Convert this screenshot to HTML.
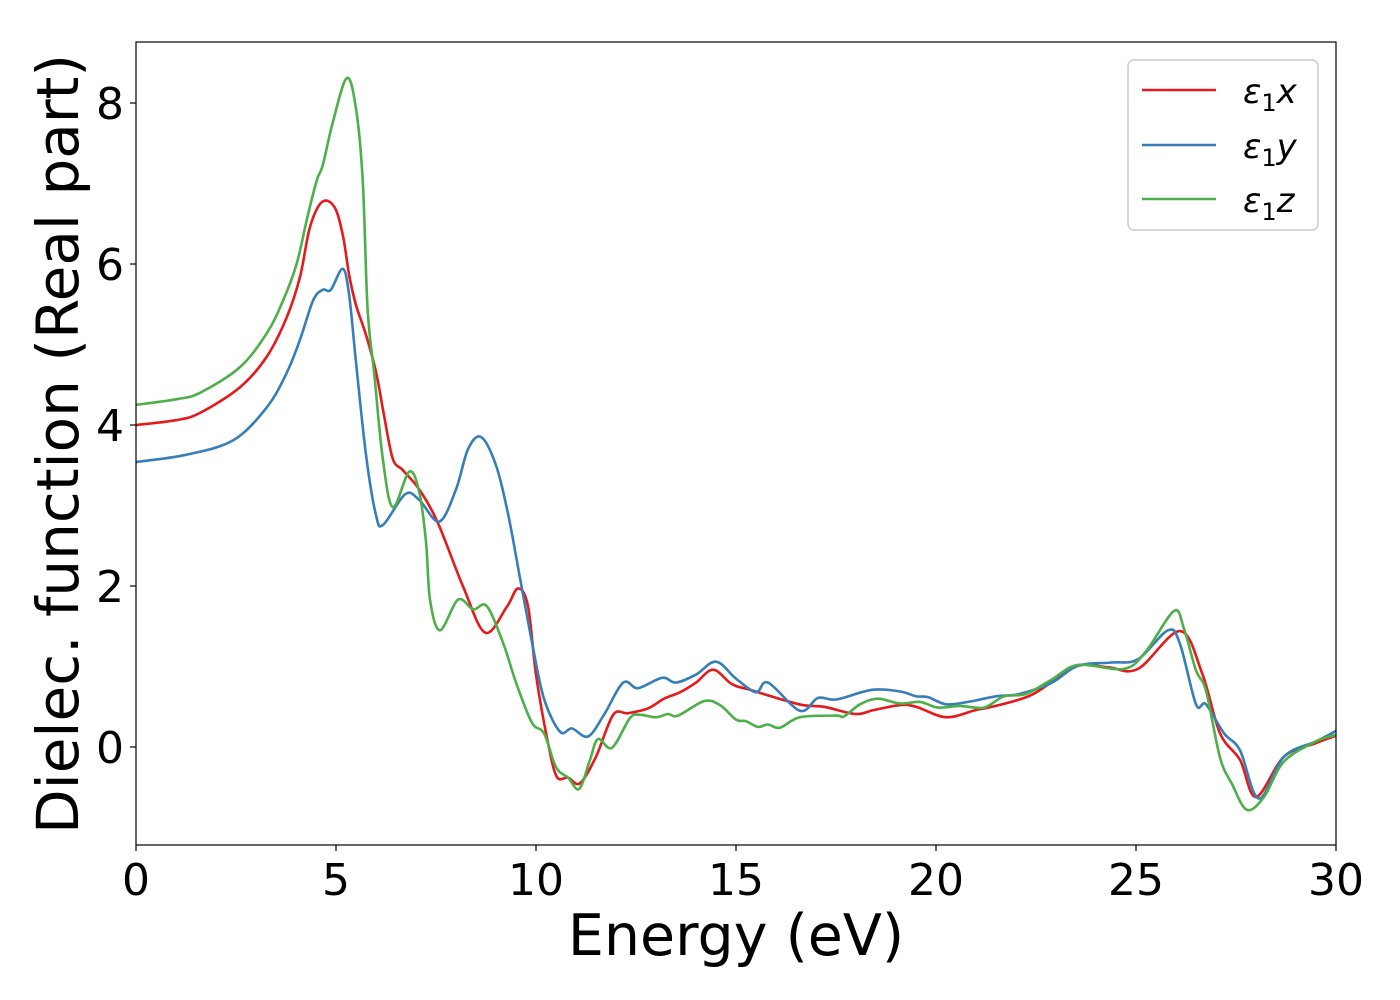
<!DOCTYPE html>
<html><head><meta charset="utf-8"><style>
body{margin:0;background:#fff;}
svg{display:block;font-family:"DejaVu Sans","Liberation Sans",sans-serif;}
</style></head><body>
<svg id="chart" width="1400" height="1000" viewBox="0 0 1400 1000">
<g id="plot"></g>
<g id="axes"></g>
<text x="736" y="955" font-size="57" text-anchor="middle">Energy (eV)</text>
<text transform="translate(78,444) rotate(-90)" font-size="58" text-anchor="middle">Dielec. function (Real part)</text>
<g>
<rect x="1128" y="60" width="190" height="170" rx="6" fill="#fff" stroke="#ccc" stroke-width="1.5"/>
<line x1="1142" y1="90" x2="1216" y2="90" stroke="#e41a1c" stroke-width="2.5"/>
<text x="1243" y="103" font-size="34" font-style="italic">ε<tspan font-style="normal" font-size="24" dy="8">1</tspan><tspan dy="-8">x</tspan></text>
<line x1="1142" y1="145" x2="1216" y2="145" stroke="#377eb8" stroke-width="2.5"/>
<text x="1243" y="158" font-size="34" font-style="italic">ε<tspan font-style="normal" font-size="24" dy="8">1</tspan><tspan dy="-8">y</tspan></text>
<line x1="1142" y1="199" x2="1216" y2="199" stroke="#4daf4a" stroke-width="2.5"/>
<text x="1243" y="212" font-size="34" font-style="italic">ε<tspan font-style="normal" font-size="24" dy="8">1</tspan><tspan dy="-8">z</tspan></text>
</g>
</svg>
<script>
const xTicks=[0,5,10,15,20,25,30];
const yTicks=[0,2,4,6,8];
const energyX=[0,1.0,1.6,2.6,3.27,3.77,4.1,4.35,4.65,4.96,5.17,5.33,5.5,5.75,6.0,6.2,6.42,6.67,7.08,7.55,8.18,8.73,9.27,9.55,9.8,10.0,10.3,10.52,10.8,11.1,11.5,11.93,12.3,12.8,13.2,13.6,14.0,14.43,14.9,15.35,16.58,17.2,17.99,18.45,19.1,19.5,20.25,21.0,21.4,22.4,23.5,24.3,25.05,26.1,26.65,27.1,27.6,28.0,28.7,29.5,30];
const valuesX=[4.0,4.06,4.15,4.47,4.85,5.34,5.84,6.46,6.77,6.71,6.36,5.86,5.49,5.12,4.66,4.12,3.58,3.44,3.2,2.78,1.99,1.42,1.74,1.97,1.75,0.9,0.05,-0.37,-0.38,-0.45,-0.12,0.4,0.42,0.48,0.6,0.68,0.8,0.96,0.78,0.71,0.53,0.5,0.41,0.46,0.52,0.5,0.37,0.46,0.5,0.65,1.0,0.99,0.97,1.44,0.92,0.17,-0.16,-0.62,-0.12,0.05,0.14];
const energyY=[0,1.25,2.43,3.27,3.77,4.1,4.43,4.67,4.87,5.17,5.33,5.5,5.75,6.0,6.18,6.73,7.08,7.58,8.0,8.3,8.63,9.0,9.3,9.6,9.9,10.2,10.6,10.9,11.3,11.7,12.18,12.55,13.15,13.5,14.0,14.5,15.0,15.5,15.8,16.6,17.05,17.5,18.4,19.1,19.5,19.8,20.25,20.8,21.5,22.1,22.9,23.55,24.4,25.05,25.8,26.1,26.5,26.75,27.2,27.6,28.07,28.7,29.5,30];
const valuesY=[3.54,3.63,3.81,4.22,4.65,5.06,5.55,5.68,5.68,5.94,5.61,4.78,3.63,2.88,2.76,3.14,3.07,2.8,3.2,3.7,3.85,3.5,2.9,2.1,1.3,0.6,0.19,0.23,0.13,0.4,0.8,0.73,0.86,0.8,0.9,1.06,0.85,0.68,0.8,0.45,0.61,0.59,0.71,0.69,0.63,0.62,0.53,0.56,0.63,0.66,0.8,1.01,1.05,1.09,1.45,1.28,0.53,0.53,0.17,-0.04,-0.64,-0.12,0.07,0.2];
const energyZ=[0,1.0,1.6,2.6,3.27,3.68,4.02,4.27,4.52,4.67,4.92,5.27,5.5,5.67,5.79,5.96,6.17,6.42,6.83,7.08,7.25,7.35,7.6,8.05,8.43,8.77,9.18,9.5,9.9,10.2,10.5,10.8,11.08,11.35,11.55,11.9,12.35,12.6,13.0,13.3,13.55,14.2,14.6,15.0,15.25,15.55,15.8,16.1,16.6,17.5,17.7,18.1,18.55,19.1,19.6,20.05,20.6,21.2,21.7,22.25,22.9,23.55,24.7,25.25,25.95,26.2,26.5,26.75,27.1,27.4,27.77,28.2,28.7,29.5,30];
const valuesZ=[4.25,4.32,4.4,4.72,5.14,5.55,6.01,6.55,7.04,7.23,7.76,8.31,7.93,7.02,5.44,4.62,3.58,2.98,3.42,3.17,2.55,1.83,1.45,1.83,1.71,1.75,1.29,0.8,0.3,0.17,-0.25,-0.38,-0.52,-0.16,0.1,-0.01,0.36,0.4,0.37,0.41,0.39,0.57,0.52,0.34,0.32,0.25,0.28,0.24,0.37,0.39,0.38,0.53,0.6,0.54,0.56,0.49,0.51,0.49,0.63,0.66,0.84,1.02,0.97,1.19,1.69,1.47,0.95,0.7,-0.13,-0.46,-0.78,-0.62,-0.18,0.07,0.15];

const L=136,R=1336,T=42,B=845;
const xMin=0,xMax=30,yMin=-1.2174,yMax=8.758;
function sx(v){return L+(v-xMin)/(xMax-xMin)*(R-L);}
function sy(v){return B-(v-yMin)/(yMax-yMin)*(B-T);}
const NS="http://www.w3.org/2000/svg";
const plot=document.getElementById('plot'),axes=document.getElementById('axes');
function mk(tag,attrs,parent){const e=document.createElementNS(NS,tag);for(const k in attrs)e.setAttribute(k,attrs[k]);parent.appendChild(e);return e;}
function pathFor(xs,ys){
  const p=xs.map((x,i)=>[sx(x),sy(ys[i])]);
  let d='M'+p[0][0].toFixed(1)+','+p[0][1].toFixed(1);
  for(let i=0;i<p.length-1;i++){
    const p0=p[Math.max(0,i-1)],p1=p[i],p2=p[i+1],p3=p[Math.min(p.length-1,i+2)];
    const c1=[p1[0]+(p2[0]-p0[0])/6,p1[1]+(p2[1]-p0[1])/6];
    const c2=[p2[0]-(p3[0]-p1[0])/6,p2[1]-(p3[1]-p1[1])/6];
    d+='C'+c1[0].toFixed(1)+','+c1[1].toFixed(1)+' '+c2[0].toFixed(1)+','+c2[1].toFixed(1)+' '+p2[0].toFixed(1)+','+p2[1].toFixed(1);
  }
  return d;
}
const cp=mk('clipPath',{id:'clip'},plot);
mk('rect',{x:L,y:T,width:R-L,height:B-T},cp);
const series=[[energyX,valuesX,'#e41a1c','line-eps1-x'],[energyY,valuesY,'#377eb8','line-eps1-y'],[energyZ,valuesZ,'#4daf4a','line-eps1-z']];
series.forEach(s=>{
  const el=mk('path',{d:pathFor(s[0],s[1]),fill:'none',stroke:s[2],'stroke-width':2.6,'clip-path':'url(#clip)','stroke-linejoin':'round'},plot);
  
  
});
const frame=mk('rect',{x:L,y:T,width:R-L,height:B-T,fill:'none',stroke:'#000','stroke-width':1.2},axes);


xTicks.forEach(t=>{
  const x=sx(t);
  mk('line',{x1:x,y1:B,x2:x,y2:B+6,stroke:'#000','stroke-width':1.2},axes);
  const tx=mk('text',{x:x,y:B+50,'font-size':44,'text-anchor':'middle'},axes);
  tx.textContent=t;
  
  
});
yTicks.forEach(t=>{
  const y=sy(t);
  mk('line',{x1:L-6,y1:y,x2:L,y2:y,stroke:'#000','stroke-width':1.2},axes);
  const tx=mk('text',{x:L-12,y:y+16,'font-size':44,'text-anchor':'end'},axes);
  tx.textContent=t;
  
  
});
</script>
</body></html>
